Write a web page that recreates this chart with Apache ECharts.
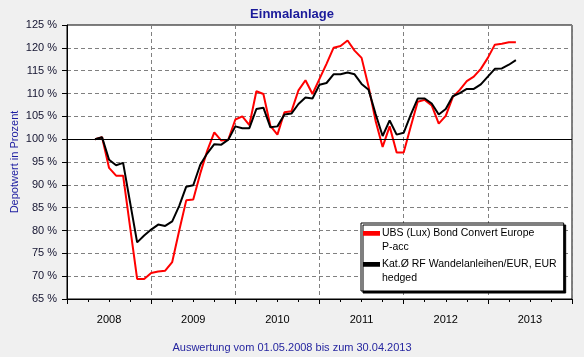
<!DOCTYPE html>
<html>
<head>
<meta charset="utf-8">
<script src="https://cdn.jsdelivr.net/npm/echarts@6/dist/echarts.min.js"></script>
<style>
html,body{margin:0;padding:0;background:#f0f0f0;}
#c{width:584px;height:357px;}
</style>
</head>
<body>
<div id="c"></div>
<script>
// Year labels (category band for each calendar year)
const years = ['2008', '2009', '2010', '2011', '2012', '2013'];
// First data point: 01.05.2008 = month 4 counted from Jan 2008; one point per month
const startMonth = 4;
const nameUBS = 'UBS (Lux) Bond Convert Europe\nP-acc';
const nameKat = 'Kat.\u00D8 RF Wandelanleihen/EUR, EUR\nhedged';
// Depot value in percent, monthly
const ubs = [
  100.0, 100.4, 93.7, 92.0, 92.0, 80.7, 69.4, 69.4, 70.7, 71.0,
  71.2, 73.1, 80.0, 86.6, 86.8, 92.5, 97.5, 101.5, 99.7, 99.9,
  104.3, 105.0, 103.1, 110.5, 109.9, 102.9, 101.0, 105.9, 106.1, 110.7,
  112.9, 109.9, 113.2, 116.5, 120.0, 120.4, 121.6, 119.4, 117.8, 111.5,
  104.0, 98.3, 102.8, 97.1, 97.1, 102.7, 108.2, 108.6, 107.4, 103.4,
  105.1, 109.2, 110.8, 112.7, 113.7, 115.4, 117.8, 120.7, 120.9, 121.2, 121.2
];
const kat = [
  100.0, 100.4, 95.5, 94.3, 94.8, 86.1, 77.4, 78.9, 80.2, 81.3,
  81.0, 82.0, 85.4, 89.6, 89.9, 94.4, 96.9, 98.9, 98.8, 99.9,
  102.8, 102.4, 102.4, 106.6, 106.9, 102.6, 102.8, 105.4, 105.6, 107.7,
  109.1, 108.9, 111.9, 112.3, 114.2, 114.2, 114.6, 114.2, 112.1, 110.8,
  105.5, 100.7, 104.1, 101.0, 101.4, 105.3, 108.9, 108.9, 107.8, 105.4,
  106.6, 109.4, 110.1, 111.0, 111.0, 112.0, 113.7, 115.4, 115.5, 116.3, 117.3
];
const yMin = 65, yMax = 125, yStep = 5;

const toXY = arr => arr.map((v, i) => [startMonth + i, v]);

const chart = echarts.init(document.getElementById('c'), null, {renderer: 'canvas'});
chart.setOption({
  animation: false,
  backgroundColor: '#f0f0f0',
  title: [
    {
      text: 'Einmalanlage', left: 'center', top: 3,
      textStyle: {fontFamily: 'Liberation Sans, Arial, sans-serif', fontSize: 13, fontWeight: 'bold', color: '#1a1a9a'}
    },
    {
      text: 'Auswertung vom 01.05.2008 bis zum 30.04.2013', left: 'center', top: 337,
      textStyle: {fontFamily: 'Liberation Sans, Arial, sans-serif', fontSize: 11, fontWeight: 'normal', color: '#2626a0'}
    }
  ],
  grid: {
    left: 67, right: 12, top: 25, bottom: 58,
    show: true, backgroundColor: '#ffffff', borderColor: '#000000', borderWidth: 1,
    outerBoundsMode: 'none'
  },
  legend: {
    orient: 'vertical', left: 361, top: 223,
    padding: [3, 7, 6, 2], itemGap: 3,
    itemWidth: 17, itemHeight: 28,
    backgroundColor: '#ffffff', borderColor: '#000000', borderWidth: 1,
    shadowColor: 'rgba(0,0,0,1)', shadowBlur: 0, shadowOffsetX: 2, shadowOffsetY: 2,
    icon: 'path://M0,4.5H18V9.5H0Z M0,0H18V0.01H0Z M0,28H18V28.01H0Z',
    textStyle: {fontFamily: 'Liberation Sans, Arial, sans-serif', fontSize: 10.5, lineHeight: 14, color: '#000000', padding: [0, 0, 0, -3]},
    data: [nameUBS, nameKat]
  },
  xAxis: [
    {
      type: 'value', min: 0, max: 72, interval: 12,
      axisLine: {show: true, lineStyle: {color: '#000', width: 1}},
      axisTick: {show: true, length: 5, lineStyle: {color: '#000'}},
      minorTick: {show: true, splitNumber: 4, length: 3, lineStyle: {color: '#000'}},
      axisLabel: {show: false},
      splitLine: {show: true, lineStyle: {color: '#808080', type: [4, 3], width: 1}}
    },
    {
      type: 'category', data: years, position: 'bottom', boundaryGap: true,
      axisLine: {show: false}, axisTick: {show: false}, splitLine: {show: false},
      axisLabel: {margin: 15, color: '#000', fontSize: 11, fontFamily: 'Liberation Sans, Arial, sans-serif'}
    }
  ],
  yAxis: {
    type: 'value', min: yMin, max: yMax, interval: yStep,
    name: 'Depotwert in Prozent', nameLocation: 'middle', nameGap: 47, nameMoveOverlap: false,
    nameTextStyle: {color: '#1c1ca0', fontSize: 11, fontFamily: 'Liberation Sans, Arial, sans-serif'},
    axisLine: {show: true, lineStyle: {color: '#000'}},
    axisTick: {show: true, length: 5, lineStyle: {color: '#000'}},
    axisLabel: {formatter: '{value} %', margin: 10, color: '#141430', fontSize: 11, fontFamily: 'Liberation Sans, Arial, sans-serif'},
    splitLine: {show: true, lineStyle: {color: '#808080', type: [4, 3], width: 1}}
  },
  series: [
    {
      name: nameUBS, type: 'line', xAxisIndex: 0, data: toXY(ubs),
      showSymbol: false, symbol: 'none',
      lineStyle: {color: '#ff0000', width: 2}, itemStyle: {color: '#ff0000'},
      markLine: {
        silent: true, symbol: 'none', label: {show: false},
        lineStyle: {color: '#000', type: 'solid', width: 1},
        data: [{yAxis: 100}]
      }
    },
    {
      name: nameKat, type: 'line', xAxisIndex: 0, data: toXY(kat),
      showSymbol: false, symbol: 'none',
      lineStyle: {color: '#000000', width: 2}, itemStyle: {color: '#000000'}
    }
  ]
});
</script>
</body>
</html>
